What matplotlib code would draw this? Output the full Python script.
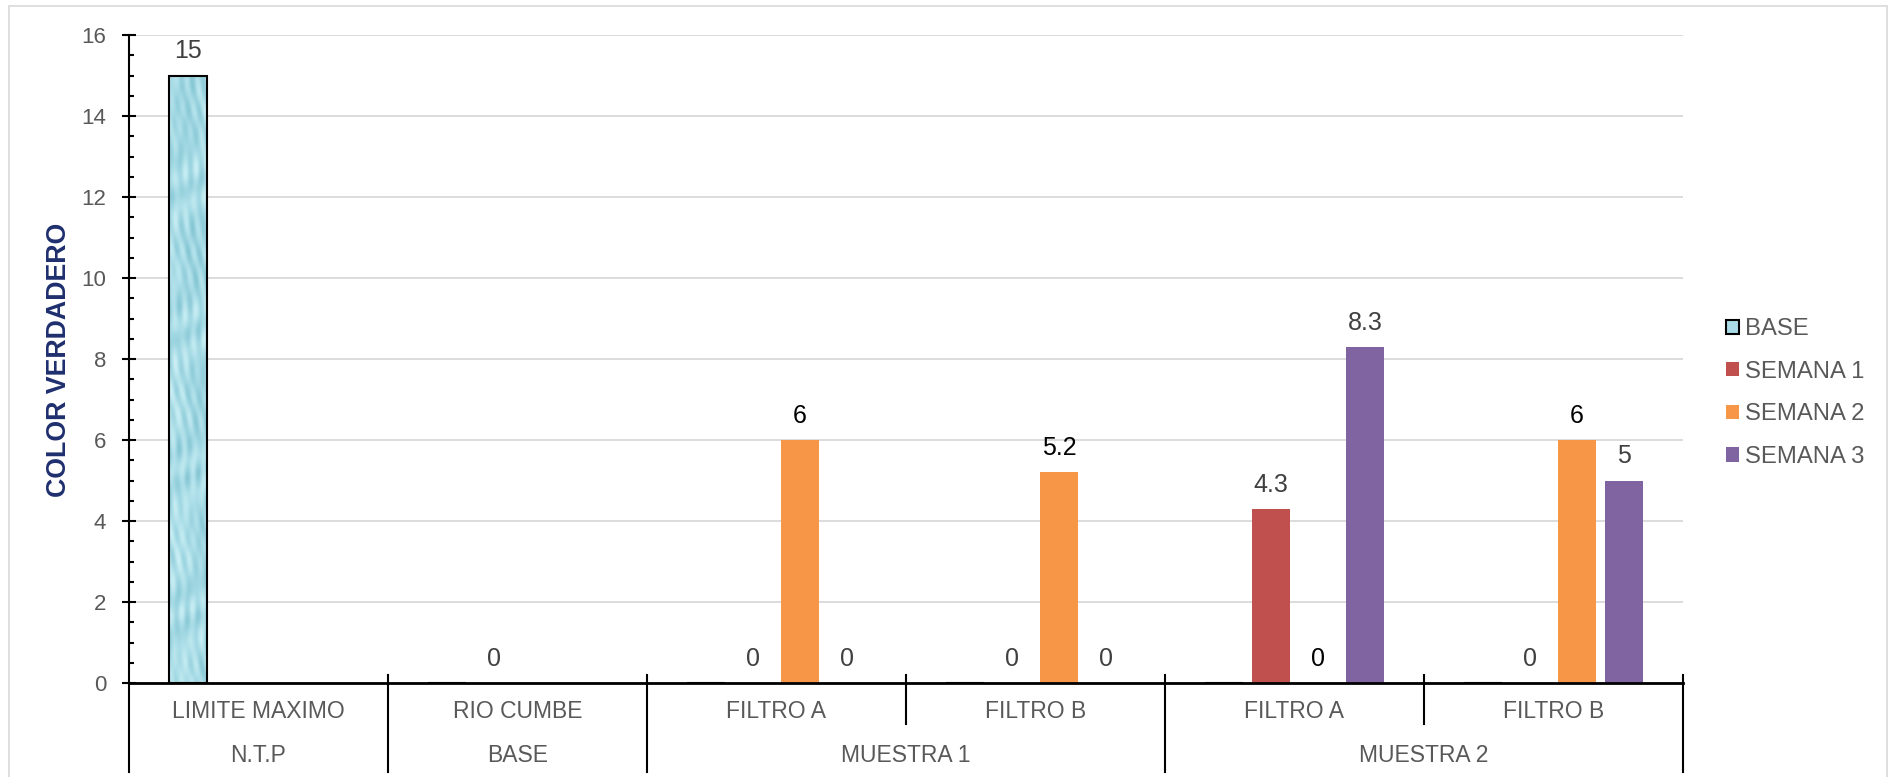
import numpy as np
import matplotlib
matplotlib.use("Agg")
import matplotlib.pyplot as plt
from matplotlib.patches import Patch, Rectangle
from matplotlib.colors import LinearSegmentedColormap
import matplotlib.transforms as mtransforms

plt.rcParams['font.family'] = ['Liberation Sans', 'DejaVu Sans']

# ---- data ----
categories = ['LIMITE MAXIMO', 'RIO CUMBE', 'FILTRO A', 'FILTRO B', 'FILTRO A', 'FILTRO B']
groups = ['N.T.P', 'BASE', 'MUESTRA 1', 'MUESTRA 2']
group_spans = [(0, 0), (1, 1), (2, 3), (4, 5)]
series_names = ['BASE', 'SEMANA 1', 'SEMANA 2', 'SEMANA 3']
nan = np.nan
base = [15, nan, nan, nan, nan, nan]
semana1 = [nan, 0, 0, 0, 4.3, 0]
semana2 = [nan, nan, 6, 5.2, 0, 6]
semana3 = [nan, nan, 0, 0, 8.3, 5]
y_ticks = [0, 2, 4, 6, 8, 10, 12, 14, 16]
y_label = 'COLOR VERDADERO'

series = [base, semana1, semana2, semana3]
colors = ['#A9DCE6', '#C0504D', '#F79646', '#8064A2']
label_colors = ['#404040', '#404040', '#000000', '#404040']

W, H = 1892, 777
fig = plt.figure(figsize=(W / 100, H / 100), dpi=100)
# chart border
fig.patches.append(Rectangle((9 / W, -0.05), (1887 - 9) / W, (H - 6) / H + 0.05,
                             transform=fig.transFigure, fill=False,
                             edgecolor='#D9D9D9', linewidth=1.2))

left, right, top, bottom = 129, 1683, 35, 683
ax = fig.add_axes([left / W, (H - bottom) / H, (right - left) / W, (bottom - top) / H])

n = len(categories)
x = np.arange(n)
slot = 0.181
bw = 0.145

for j, (vals, col) in enumerate(zip(series, colors)):
    pos = x + (j - 1.5) * slot
    v = np.array(vals, dtype=float)
    if j == 0:
        bars = ax.bar(pos, np.nan_to_num(v), width=bw, color=col, edgecolor='none', zorder=3)
        for b, val in zip(bars, v):
            if np.isnan(val) or val == 0:
                continue
            # deterministic water-like texture
            gy, gx = np.mgrid[0:300, 0:40]
            tex = (np.sin(gx * 0.35 + 2.5 * np.sin(gy * 0.09)) * np.cos(gy * 0.17 + gx * 0.25)
                   + 0.6 * np.sin(gy * 0.05 + gx * 0.5) * np.sin(gy * 0.23))
            cmap = LinearSegmentedColormap.from_list('water', ['#86C6D4', '#A8DCE6', '#CBEFF5'])
            im = ax.imshow(tex, cmap=cmap, aspect='auto', interpolation='bilinear',
                           extent=(b.get_x(), b.get_x() + b.get_width(), 0, val),
                           zorder=3.5, origin='lower')
            im.set_clip_path(b)
        ax.bar(pos, np.nan_to_num(v), width=bw, fill=False, edgecolor='black',
               linewidth=1.5, zorder=4)
    else:
        ax.bar(pos, np.nan_to_num(v), width=bw, color=col, edgecolor='none', zorder=3)
    for p, val in zip(pos, v):
        if np.isnan(val):
            continue
        txt = f'{val:g}'
        ax.annotate(txt, (p, val), xytext=(0, 12.3), textcoords='offset points',
                    ha='center', va='baseline', fontsize=18, color=label_colors[j], zorder=5)

ax.set_xlim(-0.5, n - 0.5)
ax.set_ylim(0, 16)
ax.set_yticks(y_ticks)
ax.yaxis.set_minor_locator(matplotlib.ticker.MultipleLocator(0.5))
ax.tick_params(axis='y', which='major', direction='inout', length=10, width=1.5,
               labelsize=16, labelcolor='#595959', pad=11.5)
ax.tick_params(axis='y', which='minor', direction='in', length=3.8, width=1.5)
ax.set_xticks([])
ax.grid(axis='y', color='#D9D9D9', linewidth=1.3, zorder=0)
ax.set_axisbelow(True)
for s in ['top', 'right']:
    ax.spines[s].set_visible(False)
ax.spines['left'].set_linewidth(1.5)
ax.spines['bottom'].set_linewidth(2)
ax.spines['bottom'].set_zorder(6)

trans = mtransforms.blended_transform_factory(ax.transData, ax.transAxes)
ph = bottom - top
y_up = 8 / ph
y_low_full = -(772 - bottom) / ph
y_low_mid = -(724 - bottom) / ph
group_bounds = set()
for g0, g1 in group_spans:
    group_bounds.add(g0 - 0.5)
    group_bounds.add(g1 + 0.5)
for b in np.arange(-0.5, n, 1.0):
    if b in group_bounds:
        y0 = y_low_full
    else:
        y0 = y_low_mid
    ytop = 0 if b == -0.5 else y_up
    ax.plot([b, b], [y0, ytop], transform=trans, color='black', linewidth=1.5,
            clip_on=False, zorder=6)

row1 = -(712 - bottom) / ph
row2 = -(756 - bottom) / ph
for i, c in enumerate(categories):
    ax.text(i, row1, c, transform=trans, ha='center', va='center', fontsize=16.5, color='#595959')
for g, (g0, g1) in zip(groups, group_spans):
    ax.text((g0 + g1) / 2, row2, g, transform=trans, ha='center', va='center', fontsize=16.5,
            color='#595959')

fig.text(59 / W, 1 - 360 / H, y_label, rotation=90, ha='center', va='center',
         fontsize=19.3, fontweight='bold', color='#1F2F6E')

handles = [Patch(facecolor=colors[0], edgecolor='black', linewidth=1.5)] + \
          [Patch(facecolor=c, edgecolor='none') for c in colors[1:]]
fig.legend(handles, series_names, loc='center left',
           bbox_to_anchor=(1726 / W, 1 - 393 / H), frameon=False, fontsize=17.2,
           handlelength=0.55, handleheight=0.55, handletextpad=0.25, labelspacing=0.86,
           borderpad=0, borderaxespad=0, labelcolor='#595959')

fig.savefig('out.png', dpi=100)
